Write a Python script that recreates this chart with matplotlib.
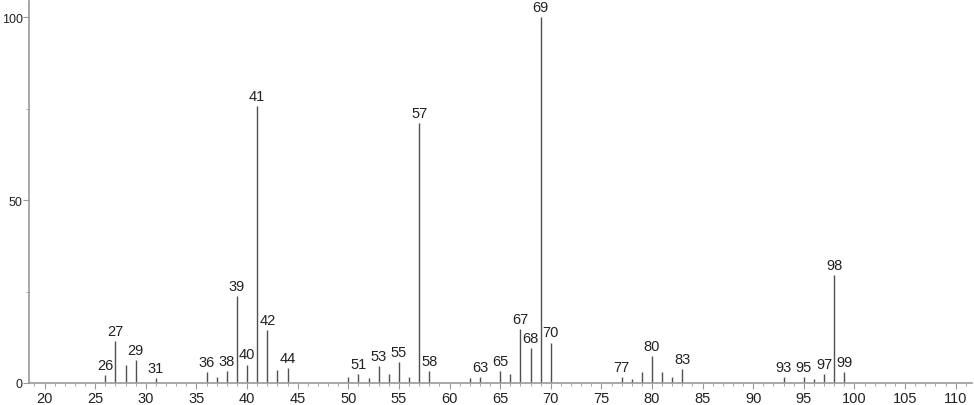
import numpy as np
import matplotlib.pyplot as plt

# m/z values and relative intensities
mz = [26, 27, 28, 29, 31, 36, 37, 38, 39, 40, 41, 42, 43, 44,
      50, 51, 52, 53, 54, 55, 56, 57, 58, 62, 63, 65, 66, 67, 68, 69, 70,
      77, 78, 79, 80, 81, 82, 83, 93, 95, 96, 97, 98, 99]
intensity = [2.2, 11.5, 5.0, 6.3, 1.4, 3.0, 1.6, 3.3, 23.8, 5.0, 75.7, 14.5, 3.6, 4.1,
             1.6, 2.5, 1.4, 4.6, 2.5, 5.7, 1.6, 71.0, 3.3, 1.4, 1.6, 3.3, 2.5, 14.8, 9.6, 100.0, 11.0,
             1.6, 1.1, 3.0, 7.4, 3.0, 1.6, 3.8, 1.6, 1.6, 1.1, 2.5, 29.5, 3.0]
labelled = [26, 27, 29, 31, 36, 38, 39, 40, 41, 42, 44, 51, 53, 55, 57, 58,
            63, 65, 67, 68, 69, 70, 77, 80, 83, 93, 95, 97, 98, 99]

plt.rcParams['font.family'] = ['Liberation Sans', 'DejaVu Sans']

fig = plt.figure(figsize=(9.74, 4.06), dpi=100)
ax = fig.add_axes([29 / 974, 22 / 406, 943 / 974, 382 / 406])

ax.vlines(mz, 0, intensity, color='#505050', linewidth=1)
for m, h in zip(mz, intensity):
    if m in labelled:
        ax.text(m, h + 0.9, str(m), ha='center', va='bottom',
                fontsize=10.5, color='#222222')

ax.set_xlim(18.46, 111.61)
ax.set_ylim(0, 104.4)
ax.set_xticks(np.arange(20, 111, 5))
ax.set_xticks(np.arange(19, 112, 1), minor=True)
ax.set_yticks([0, 50, 100])
ax.set_yticks([25, 75], minor=True)

for side in ['top', 'right']:
    ax.spines[side].set_visible(False)
for side in ['left', 'bottom']:
    ax.spines[side].set_color('#999999')
    ax.spines[side].set_linewidth(1.2)

ax.tick_params(which='major', length=4, color='#999999', labelsize=10.5,
               labelcolor='#222222', pad=1.5)
ax.tick_params(which='minor', length=2.5, color='#999999')
ax.tick_params(axis='y', which='major', length=4, pad=0.5, labelsize=9)

fig.savefig('out.png', dpi=100)
